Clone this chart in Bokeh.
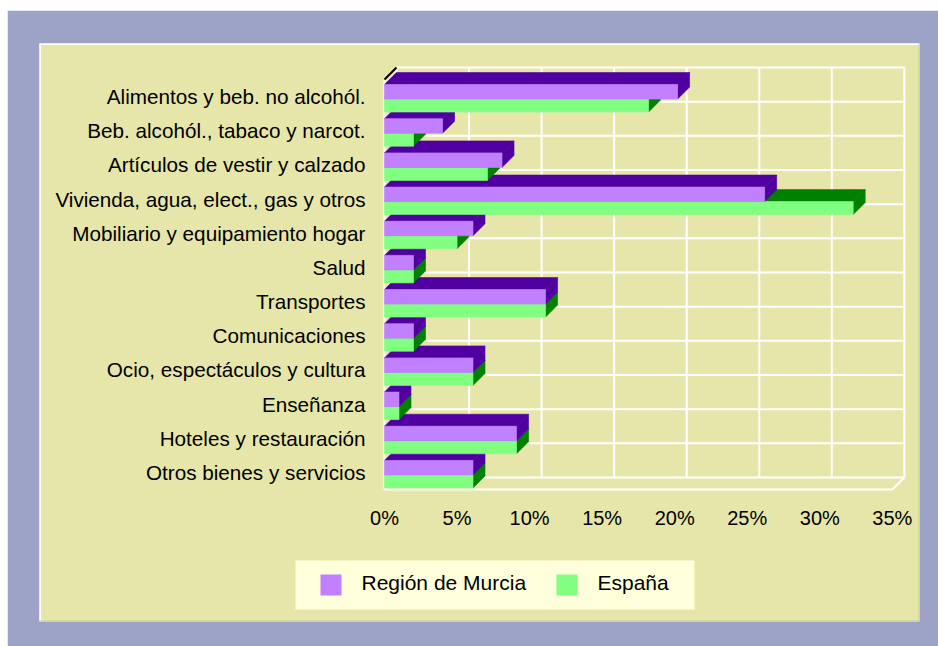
from bokeh.plotting import figure
from bokeh.models import Range1d, LinearAxis, FixedTicker
from bokeh.core.properties import value
from bokeh.embed import file_html
from bokeh.resources import INLINE

# ---------------- data ----------------
categories = [
    "Alimentos y beb. no alcohól.",
    "Beb. alcohól., tabaco y narcot.",
    "Artículos de vestir y calzado",
    "Vivienda, agua, elect., gas y otros",
    "Mobiliario y equipamiento hogar",
    "Salud",
    "Transportes",
    "Comunicaciones",
    "Ocio, espectáculos y cultura",
    "Enseñanza",
    "Hoteles y restauración",
    "Otros bienes y servicios",
]
murcia = [20.2, 4.0, 8.1, 26.2, 6.1, 2.0, 11.1, 2.0, 6.1, 1.0, 9.1, 6.1]
espana = [18.2, 2.0, 7.1, 32.3, 5.0, 2.0, 11.1, 2.0, 6.1, 1.0, 9.1, 6.1]
x_ticks = [0, 5, 10, 15, 20, 25, 30, 35]
x_tick_labels = ["0%", "5%", "10%", "15%", "20%", "25%", "30%", "35%"]
series_names = ["Región de Murcia", "España"]

# ---------------- style / layout ----------------
OUTER = "#9ca3c6"
PANEL = "#e6e6aa"
LEG_BG = "#ffffdc"
PURPLE, PURPLE_DARK = "#c080ff", "#5000a0"
GREEN, GREEN_DARK = "#80ff80", "#008000"
FONT = "Liberation Sans"

PX_X = 14.51   # pixels per percent
PX_Y = 34.17   # pixels per category band
DEPTH = 12.0   # 3D depth in pixels
DX = DEPTH / PX_X
DY = DEPTH / PX_Y
N = len(categories)
XMAX = x_ticks[-1]

X0_PX, YB_PX = 384, 489   # page position of the front-plane origin


def sx(px):   # horizontal pixel position -> data x
    return (px - X0_PX) / PX_X


def sy(py):   # vertical pixel position -> data y
    return -0.5 + (YB_PX - py) / PX_Y


XR = Range1d(sx(39), sx(919))
YR = Range1d(sy(621), sy(43))

p = figure(width=931, height=636, output_backend="svg", toolbar_location=None,
           x_axis_location=None, y_axis_location=None, x_range=XR, y_range=YR,
           min_border_left=32, min_border_right=19, min_border_top=33, min_border_bottom=25)
p.margin = (10, 0, 0, 7)
p.background_fill_color = PANEL
p.border_fill_color = OUTER
p.outline_line_color = None
p.grid.visible = False

# panel edge highlight
p.segment(x0=[XR.start, XR.start], x1=[XR.end, XR.start], y0=[YR.end, YR.start], y1=[YR.end, YR.end],
          line_color="white", line_width=3)
p.segment(x0=[XR.start, XR.end], x1=[XR.end, XR.end], y0=[YR.start, YR.start], y1=[YR.start, YR.end],
          line_color="#c9c9a4", line_width=2)

# back wall grid
top_y = N - 0.5
p.segment(x0=[t + DX for t in x_ticks], x1=[t + DX for t in x_ticks],
          y0=[-0.5 + DY] * len(x_ticks), y1=[top_y + DY] * len(x_ticks),
          line_color="white", line_width=2)
p.segment(x0=[DX] * (N + 1), x1=[XMAX + DX] * (N + 1),
          y0=[k - 0.5 + DY for k in range(N + 1)], y1=[k - 0.5 + DY for k in range(N + 1)],
          line_color="white", line_width=2)
# floor edges and left wall front edge
p.segment(x0=[0, XMAX, 0, 0], x1=[XMAX, XMAX + DX, DX, 0],
          y0=[-0.5, -0.5, -0.5, -0.5], y1=[-0.5, -0.5 + DY, -0.5 + DY, top_y],
          line_color="white", line_width=2)
p.segment(x0=[0], x1=[DX], y0=[top_y], y1=[top_y + DY], line_color="black", line_width=2)

# 3D bars
xs, ys, fills = [], [], []


def add_bar(v, y0, y1, front, dark):
    xs.append([0, v, v + DX, DX]); ys.append([y1, y1, y1 + DY, y1 + DY]); fills.append(dark)
    xs.append([v, v + DX, v + DX, v]); ys.append([y0, y0 + DY, y1 + DY, y1]); fills.append(dark)
    xs.append([0, v, v, 0]); ys.append([y0, y0, y1, y1]); fills.append(front)


for idx in reversed(range(N)):
    j = N - 1 - idx
    add_bar(espana[idx], j - 0.454, j - 0.074, GREEN, GREEN_DARK)
    add_bar(murcia[idx], j - 0.074, j + 0.351, PURPLE, PURPLE_DARK)

p.patches(xs=xs, ys=ys, fill_color=fills, line_color=fills, line_width=0.6)

# axes
yaxis = LinearAxis(fixed_location=0,
                   ticker=FixedTicker(ticks=list(range(N))),
                   major_label_overrides={N - 1 - i: c for i, c in enumerate(categories)})
xaxis = LinearAxis(fixed_location=-0.5,
                   ticker=FixedTicker(ticks=x_ticks),
                   major_label_overrides=dict(zip(x_ticks, x_tick_labels)))
for ax in (yaxis, xaxis):
    ax.axis_line_color = None
    ax.major_tick_line_color = None
    ax.minor_tick_line_color = None
    ax.major_tick_in = 0
    ax.major_tick_out = 0
    ax.major_label_text_font = FONT
    ax.major_label_text_color = "black"
yaxis.major_label_text_font_size = "20.7px"
xaxis.major_label_text_font_size = "20px"
yaxis.major_label_standoff = 19
xaxis.major_label_standoff = 17
p.add_layout(yaxis, "left")
p.add_layout(xaxis, "below")

# legend (box, swatches, labels)
p.quad(left=[sx(295)], right=[sx(694)], top=[sy(560)], bottom=[sy(609)],
       fill_color=LEG_BG, line_color=None)
sw_left = [sx(320), sx(556)]
p.quad(left=sw_left, right=[v + 21 / PX_X for v in sw_left],
       top=[sy(574)] * 2, bottom=[sy(595)] * 2,
       fill_color=[PURPLE, GREEN], line_color=None)
p.text(x=[sx(361), sx(597)], y=[sy(582)] * 2, text=series_names,
       text_font=value(FONT), text_font_size="21px", text_color="black",
       text_baseline="middle", text_align="left")

open("out.html", "w").write(file_html(p, INLINE))
